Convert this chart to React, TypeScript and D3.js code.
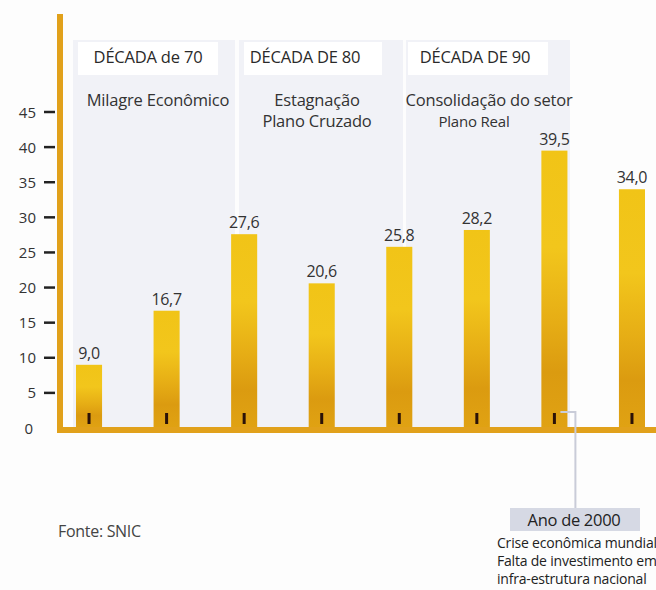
import React from "react";
import * as d3 from "d3";

const categories = ["1970a", "1970b", "1970c", "1980a", "1980b", "1990a", "2000", "2003"];
const values = [9.0, 16.7, 27.6, 20.6, 25.8, 28.2, 39.5, 34.0];
const valueLabels = ["9,0", "16,7", "27,6", "20,6", "25,8", "28,2", "39,5", "34,0"];
const yTicks = [0, 5, 10, 15, 20, 25, 30, 35, 40, 45];
const decadeTitles = ["DÉCADA de 70", "DÉCADA DE 80", "DÉCADA DE 90"];
const decadeNotes = [["Milagre Econômico"], ["Estagnação", "Plano Cruzado"], ["Consolidação do setor", "Plano Real"]];
const annotationTitle = "Ano de 2000";
const annotationLines = ["Crise econômica mundial", "Falta de investimento em", "infra-estrutura nacional"];
const sourceText = "Fonte: SNIC";

const W = 656;
const H = 590;
const FONT = "'Open Sans', 'Noto Sans', sans-serif";

// layout of decade panels (annotation backgrounds)
const panels = [
  { x0: 73, x1: 235, bx0: 78, bx1: 218, tx: 148, nx: 158 },
  { x0: 239, x1: 403, bx0: 244, bx1: 382, tx: 305, nx: 317 },
  { x0: 406, x1: 570, bx0: 408, bx1: 548, tx: 475, nx: 489 },
];

export default function App() {
  const y = d3.scaleLinear().domain([0, 45]).range([428, 112]);
  const x = d3.scaleBand<string>().domain(categories).range([76, 645]).paddingInner(0.664).paddingOuter(0);
  const bw = x.bandwidth();
  const base = y(0);

  const annIdx = 6;
  const annX = (x(categories[annIdx]) as number) + bw / 2;

  return (
    <svg width={W} height={H} style={{ position: "absolute", left: 0, top: 0, background: "#fdfdfd" }} fontFamily={FONT}>
      <defs>
        <linearGradient id="barGrad" x1="0" y1="0" x2="0" y2="1">
          <stop offset="0" stopColor="#f1c417" />
          <stop offset="0.35" stopColor="#f2c61c" />
          <stop offset="0.62" stopColor="#e6ad15" />
          <stop offset="0.8" stopColor="#db9b10" />
          <stop offset="1" stopColor="#e0a213" />
        </linearGradient>
      </defs>
      <rect x={0} y={0} width={W} height={H} fill="#fdfdfd" />

      {panels.map((p, i) => (
        <g key={i}>
          <rect x={p.x0} y={40} width={p.x1 - p.x0} height={base - 40} fill="#f1f2f7" />
          <rect x={p.bx0} y={42} width={p.bx1 - p.bx0} height={33} fill="#ffffff" />
          <text x={p.tx} y={63} textAnchor="middle" fontSize={16.5} fill="#2a2a2a" letterSpacing={-0.2}>
            {decadeTitles[i]}
          </text>
          {decadeNotes[i].map((t, j) => (
            <text
              key={j}
              x={j === 1 && i === 2 ? p.nx - 15 : p.nx}
              y={106 + j * 21}
              textAnchor="middle"
              fontSize={j === 1 && i === 2 ? 15 : 16.5}
              fill="#333"
              letterSpacing={-0.2}
            >
              {t}
            </text>
          ))}
        </g>
      ))}

      {categories.map((c, i) => {
        const x0 = x(c) as number;
        return (
          <g key={c}>
            <rect x={x0} y={y(values[i])} width={bw} height={base - y(values[i])} fill="url(#barGrad)" />
            <rect x={x0 + bw / 2 - 1.5} y={413} width={3} height={11} fill="#2b1208" />
            <text x={x0 + bw / 2} y={y(values[i]) - 6} textAnchor="middle" fontSize={16} fill="#333" letterSpacing={-0.3}>
              {valueLabels[i]}
            </text>
          </g>
        );
      })}

      {/* axes */}
      <rect x={57} y={14} width={6} height={base + 5 - 14} fill="#e1a11b" />
      <rect x={57} y={base - 1} width={W - 57} height={6} fill="#e1a11b" />
      {yTicks.map((t) => (
        <g key={t}>
          {t > 0 && <line x1={44} x2={55} y1={y(t)} y2={y(t)} stroke="#222" strokeWidth={2.5} />}
          <text x={t === 0 ? 33 : 36} y={y(t) + 5.5} textAnchor="end" fontSize={15} fill="#333">
            {t}
          </text>
        </g>
      ))}

      {/* annotation */}
      <path
        d={`M${annX + 6},${412} H${annX + 21} V${508}`}
        fill="none"
        stroke="#c9ccd8"
        strokeWidth={2}
      />
      <rect x={510} y={508} width={130} height={23} fill="#d6d9e4" />
      <text x={574} y={526} textAnchor="middle" fontSize={16.5} fill="#222" letterSpacing={-0.3}>
        {annotationTitle}
      </text>
      {annotationLines.map((t, i) => (
        <text key={i} x={497} y={548 + i * 18} fontSize={14} fill="#222" letterSpacing={-0.2}>
          {t}
        </text>
      ))}

      <text x={58} y={537} fontSize={16} fill="#444" letterSpacing={-0.3}>
        {sourceText}
      </text>
    </svg>
  );
}
